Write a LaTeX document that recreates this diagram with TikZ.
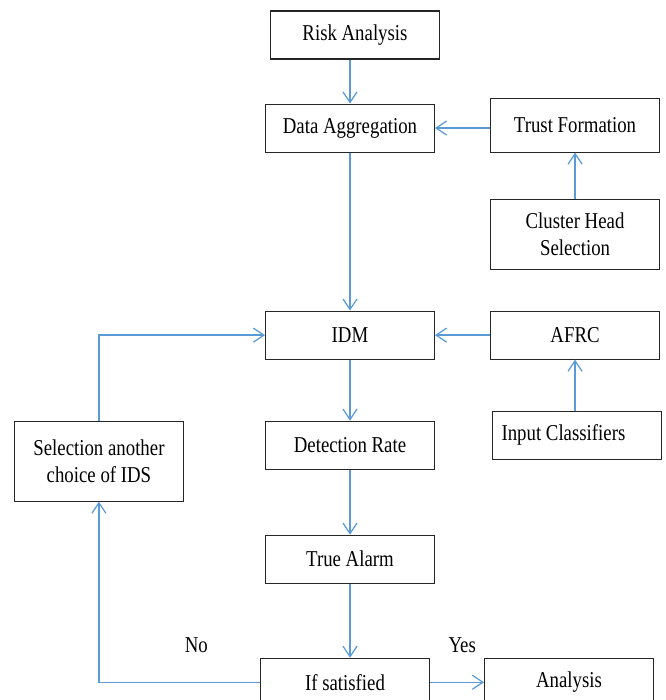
\documentclass[tikz,border=0pt]{standalone}
\usepackage{fontspec}
\setmainfont{Liberation Serif}[FakeStretch=0.83]
\usepackage{tikz}
\usetikzlibrary{arrows.meta, positioning}
\definecolor{linkblue}{RGB}{91,155,213}
\tikzset{
  block/.style={rectangle, draw=black!85, line width=0.6pt, fill=white,
                minimum width=3.38cm, minimum height=0.96cm, inner sep=0pt,
                align=center, font=\fontsize{12.9}{15.3}\selectfont},
  arrow/.style={-{Straight Barb[length=6pt, width=8pt]}, line width=0.7pt,
                draw=linkblue},
  lbl/.style={inner sep=1pt, font=\fontsize{12.9}{15.3}\selectfont},
}
\begin{document}
\begin{tikzpicture}
  \useasboundingbox (0,0) rectangle (13.32,-14);

  % Main column
  \node[block] (risk) at (7.1,-0.7) {Risk Analysis};
  \node[block, below=0.88cm of risk, xshift=-0.1cm] (agg) {Data Aggregation};
  \node[block, below=3.16cm of agg] (idm) {IDM};
  \node[block, below=1.22cm of idm] (det) {Detection Rate};
  \node[block, below=1.3cm of det] (alarm) {True Alarm};
  \node[block, below=1.48cm of alarm, xshift=-0.1cm] (ifsat) {If satisfied};

  % Right side
  \node[block, right=1.1cm of agg, yshift=0.06cm,
        minimum height=1.08cm] (trust) {Trust Formation};
  \node[block, below=0.92cm of trust, minimum height=1.4cm]
    (cluster) {Cluster Head\\Selection};
  \node[block, right=1.1cm of idm] (afrc) {AFRC};
  \node[block, below=1.02cm of afrc, xshift=0.03cm, align=flush left,
        text width=3.0cm, inner xsep=0.19cm] (input) {Input Classifiers};
  \node[block, right=1.08cm of ifsat] (ana) {Analysis};

  % Left side
  \node[block, minimum height=1.6cm, left=1.62cm of det.north west,
        anchor=north east] (sel) {Selection another\\choice of IDS};

  % Labels
  \node[lbl, above left=0.05cm and 1.0cm of ifsat.north west,
        anchor=south east] (no) {No};
  \node[lbl, above left=0.05cm and 0.12cm of ana.north west,
        anchor=south east] (yes) {Yes};

  % Connectors
  \draw[arrow] (agg.north |- risk.south) -- (agg.north);
  \draw[arrow] (trust.west |- agg.east) -- (agg.east);
  \draw[arrow] (trust.south |- cluster.north) -- (trust.south);
  \draw[arrow] (agg) -- (idm);
  \draw[arrow] (afrc) -- (idm);
  \draw[arrow] (afrc.south |- input.north) -- (afrc.south);
  \draw[arrow] (idm) -- (det);
  \draw[arrow] (det) -- (alarm);
  \draw[arrow] (alarm.south) -- (alarm.south |- ifsat.north);
  \draw[arrow] (ifsat) -- (ana);
  \draw[arrow] (ifsat.west) -| (sel.south);
  \draw[arrow] (sel.north) |- (idm.west);
\end{tikzpicture}
\end{document}
